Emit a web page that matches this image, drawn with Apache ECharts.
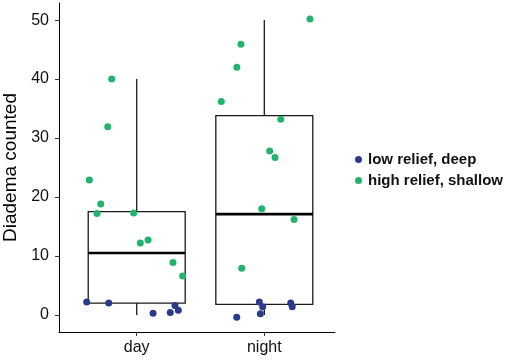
<!DOCTYPE html>
<html>
<head>
<meta charset="utf-8">
<script src="https://cdn.jsdelivr.net/npm/echarts@6/dist/echarts.min.js"></script>
<style>
  html, body { margin: 0; padding: 0; background: #fff; }
  #main { width: 510px; height: 362px; }
</style>
</head>
<body>
<div id="main"></div>
<script>
// categories on the x axis (1 = day, 2 = night)
var categories = ['day', 'night'];
// box stats per category: [x, lower whisker, q1, median, q3, upper whisker]
var boxStats = [
  [1, 0, 2.0, 10.5, 17.5, 40],
  [2, 0, 1.8, 17.1, 33.8, 50]
];
// jittered points [x, count]
var lowDeep = [
  [0.608, 2.2], [0.781, 2.0], [1.300, 1.6], [1.326, 0.8], [1.263, 0.4], [1.128, 0.3],
  [1.961, 2.2], [1.987, 1.4], [1.969, 0.2], [2.207, 2.0], [2.219, 1.4], [1.784, -0.4]
];
var highShallow = [
  [0.804, 40], [0.773, 31.9], [0.629, 22.9], [0.718, 18.8], [0.689, 17.2],
  [0.976, 17.3], [1.028, 12.2], [1.089, 12.7], [1.284, 8.9], [1.360, 6.6],
  [2.358, 50.2], [1.817, 45.9], [1.785, 42], [1.663, 36.2], [2.129, 33.2],
  [2.042, 27.8], [2.084, 26.7], [1.980, 18.0], [2.233, 16.2], [1.823, 7.9]
];
var yTicks = [0, 10, 20, 30, 40, 50];

var font = 'Liberation Sans, Arial, sans-serif';
var chart = echarts.init(document.getElementById('main'));

function renderBox(params, api) {
  var x = api.value(0);
  var half = 0.38;
  var pMin = api.coord([x, api.value(1)]);
  var pQ1 = api.coord([x, api.value(2)]);
  var pMed = api.coord([x, api.value(3)]);
  var pQ3 = api.coord([x, api.value(4)]);
  var pMax = api.coord([x, api.value(5)]);
  var xl = api.coord([x - half, 0])[0];
  var xr = api.coord([x + half, 0])[0];
  var line = { stroke: '#1a1a1a', lineWidth: 1.3 };
  return {
    type: 'group',
    children: [
      { type: 'line', shape: { x1: pMax[0], y1: pMax[1], x2: pQ3[0], y2: pQ3[1] }, style: line },
      { type: 'line', shape: { x1: pMin[0], y1: pMin[1], x2: pQ1[0], y2: pQ1[1] }, style: line },
      { type: 'rect', shape: { x: xl, y: pQ3[1], width: xr - xl, height: pQ1[1] - pQ3[1] },
        style: { fill: 'none', stroke: '#1a1a1a', lineWidth: 1.3 } },
      { type: 'line', shape: { x1: xl, y1: pMed[1], x2: xr, y2: pMed[1] },
        style: { stroke: '#000', lineWidth: 2.6 } }
    ]
  };
}

var option = {
  animation: false,
  backgroundColor: '#fff',
  grid: { left: 59, right: 175, top: 3, bottom: 30, containLabel: false, outerBoundsMode: 'none' },
  legend: {
    orient: 'vertical',
    left: 350,
    top: 147,
    itemWidth: 7,
    itemHeight: 7,
    itemGap: 6,
    icon: 'circle',
    textStyle: { fontFamily: font, fontSize: 15, fontWeight: 'bold', color: '#111', padding: [0, 0, 0, 1] },
    data: ['low relief, deep', 'high relief, shallow']
  },
  xAxis: {
    type: 'value',
    min: 0.391,
    max: 2.554,
    splitLine: { show: false },
    axisLine: { show: true, onZero: false, lineStyle: { color: '#000', width: 1 } },
    axisTick: { show: true, length: 4, customValues: [1, 2], lineStyle: { color: '#333' } },
    axisLabel: {
      customValues: [1, 2],
      margin: 8,
      fontFamily: font, fontSize: 16, color: '#111',
      formatter: function (v) { return categories[Math.round(v) - 1]; }
    }
  },
  yAxis: {
    type: 'value',
    min: -2.9,
    max: 52.9,
    name: 'Diadema counted',
    nameLocation: 'middle',
    nameGap: 35,
    nameTextStyle: { fontFamily: font, fontSize: 19, color: '#000' },
    splitLine: { show: false },
    axisLine: { show: true, onZero: false, lineStyle: { color: '#000', width: 1 } },
    axisTick: { show: true, length: 4, customValues: yTicks, lineStyle: { color: '#333' } },
    axisLabel: { customValues: yTicks, margin: 10, fontFamily: font, fontSize: 16, color: '#111' }
  },
  series: [
    {
      type: 'custom',
      renderItem: renderBox,
      data: boxStats,
      z: 1,
      silent: true
    },
    {
      name: 'low relief, deep',
      type: 'scatter',
      data: lowDeep,
      symbolSize: 7,
      itemStyle: { color: '#2c3a8c', opacity: 1 },
      z: 3
    },
    {
      name: 'high relief, shallow',
      type: 'scatter',
      data: highShallow,
      symbolSize: 7,
      itemStyle: { color: '#22b36d', opacity: 1 },
      z: 3
    }
  ]
};
chart.setOption(option);
</script>
</body>
</html>
